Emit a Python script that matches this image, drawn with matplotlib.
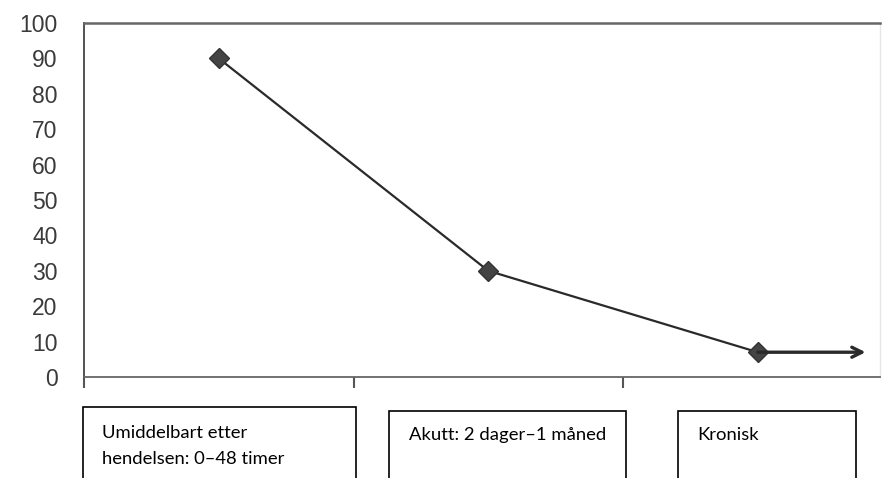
import numpy as np
from matplotlib import pyplot as plt
from matplotlib.patches import Rectangle

# phases (x positions are category centres) and values
phases = ['Umiddelbart etter\nhendelsen: 0\u201348 timer', 'Akutt: 2 dager\u20131 m\u00e5ned', 'Kronisk']
x_pos = [0.5, 1.5, 2.5]
values = [90, 30, 7]
y_ticks = [0, 10, 20, 30, 40, 50, 60, 70, 80, 90, 100]

W, H = 883, 478
fig = plt.figure(figsize=(W / 100, H / 100), dpi=100)

def fx(px):
    return px / W

def fy(py):
    return 1 - py / H

# axes box in pixel terms: left 84, right 880, top 23, bottom 377
ax = fig.add_axes([fx(84), fy(377), fx(880) - fx(84), fy(23) - fy(377)])
ax.set_xlim(0, (880 - 84) / 269.5)
ax.set_ylim(0, 100)

ax.plot(x_pos, values, color='#2a2a2a', lw=1.6, marker='D', ms=10,
        markerfacecolor='#444444', markeredgecolor='#333333', zorder=3)
ax.annotate('', xy=(2.9, values[-1]), xytext=(x_pos[-1], values[-1]),
            arrowprops=dict(arrowstyle='->', lw=2.4, color='#2a2a2a',
                            mutation_scale=18, shrinkA=0, shrinkB=0))

ax.set_yticks(y_ticks)
ax.set_yticklabels([str(v) for v in y_ticks], fontsize=16.5,
                   family='Liberation Sans', color='#3a3a3a')
ax.tick_params(axis='y', length=0, pad=19)
ax.set_xticks([0, 1, 2])
ax.set_xticklabels([])
ax.tick_params(axis='x', length=8, width=1.5, color='#555555')

ax.spines['left'].set_color('#444444')
ax.spines['left'].set_linewidth(1.3)
ax.spines['bottom'].set_color('#666666')
ax.spines['bottom'].set_linewidth(1.3)
ax.spines['top'].set_color('#666666')
ax.spines['top'].set_linewidth(1.8)
ax.spines['right'].set_color('#e6e6e6')
ax.spines['right'].set_linewidth(1.0)

# label boxes below the axis (pixel layout: left, right, top)
boxes = [(83, 356, 407), (389, 626, 411), (678, 856, 411)]
text_x = [102, 409, 697]
text_base = [438, 440, 440]
for (l, r, t), tx, tb, label in zip(boxes, text_x, text_base, phases):
    fig.add_artist(Rectangle((fx(l), fy(H + 5)), fx(r) - fx(l), fy(t) - fy(H + 5),
                             transform=fig.transFigure, fill=False,
                             edgecolor='black', lw=1.2, clip_on=False))
    for i, line in enumerate(label.split('\n')):
        fig.text(fx(tx), fy(tb + i * 26.5), line, fontsize=13.3, family='Lato',
                 va='baseline', ha='left', color='black')

plt.savefig('out.png', dpi=100)
